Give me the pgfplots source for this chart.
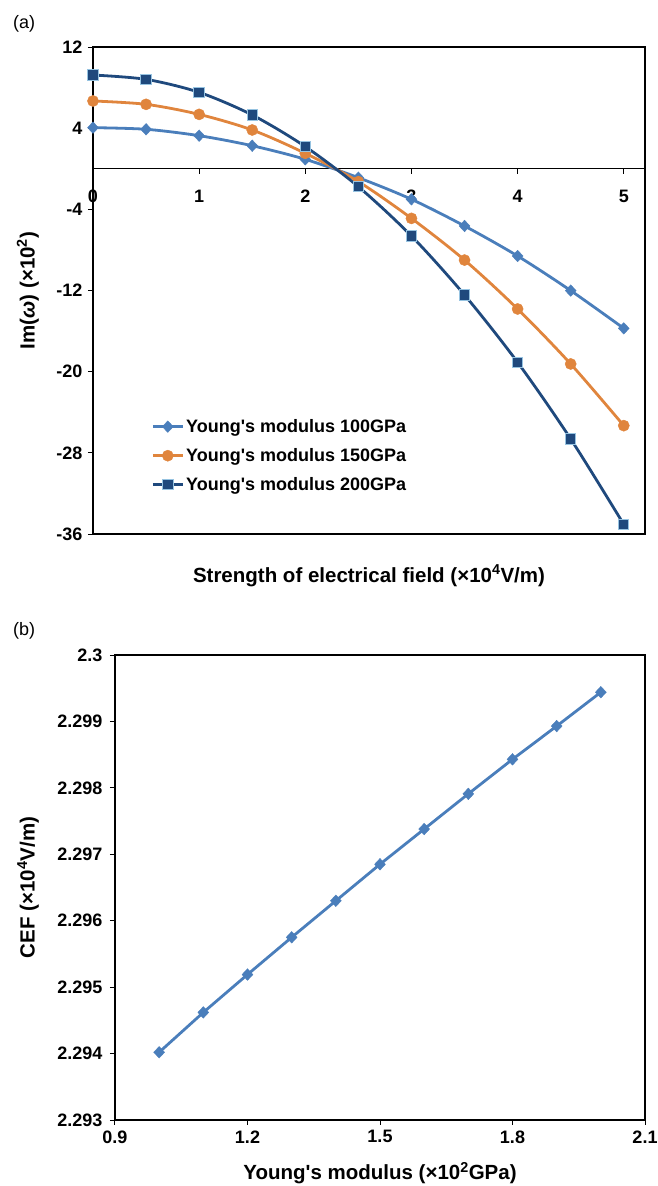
\documentclass[border=0pt]{standalone}
\usepackage{fontspec}
\setmainfont{Liberation Sans}
\usepackage{pgfplots}
\pgfplotsset{compat=1.18}

\definecolor{cA}{RGB}{74,126,187}
\definecolor{cB}{RGB}{224,133,61}
\definecolor{cC}{RGB}{31,73,125}
\definecolor{cCedge}{RGB}{150,195,225}

\pgfplotsset{
  panel/.style={scale only axis,
    /pgf/number format/assume math mode=true,
    tick label style={font=\fontsize{18}{21}\selectfont\bfseries},
    label style={font=\fontsize{20.5}{24}\selectfont\bfseries},
    axis line style={line width=1.2pt},
    tick style={black, line width=1pt},
    major tick length=5pt, tick align=outside},
}

\begin{document}
\begin{tikzpicture}
\path[use as bounding box] (0,0) rectangle (657pt,-1186pt);

\node[anchor=base west, inner sep=0, font=\fontsize{18}{21}\selectfont] at (13pt,-28pt) {(a)};
\node[anchor=base west, inner sep=0, font=\fontsize{18}{21}\selectfont] at (13pt,-635pt) {(b)};

% (a) growth rate against field strength
\begin{axis}[panel, at={(93pt,-534pt)}, anchor=south west,
  width=552pt, height=487pt,
  xmin=0, xmax=5.2, ymin=-36, ymax=12,
  axis x line*=middle, axis y line*=left, hide obscured x ticks=false,
  tick align=outside,
  xtick={0,1,2,3,4,5}, ytick={-36,-28,...,12},
  xticklabel style={yshift=-13pt}, yticklabel style={xshift=-2pt},
  xlabel={Strength of electrical field (×10\textsuperscript{4}V/m)},
  ylabel={Im(\textit{ω}) (×10\textsuperscript{2})},
  xlabel style={at={(axis description cs:0.5,-0.086)}, anchor=center},
  ylabel style={at={(axis description cs:-0.118,0.5)}, anchor=center},
  clip mode=individual,
  legend style={at={(axis description cs:0.1,0.244)}, anchor=north west,
    draw=none, fill=none, font=\fontsize{18}{21}\selectfont\bfseries,
    row sep=10.5pt},
  legend cell align=left,
  legend image code/.code={\draw[mark repeat=2,mark phase=2,#1]
    plot coordinates {(0pt,0pt)(15pt,0pt)(30pt,0pt)};},
]
\draw[black, line width=1.2pt] (rel axis cs:0,0) rectangle (rel axis cs:1,1);

\addplot[cA, line width=2.8pt, smooth, mark=diamond*, mark size=5.8pt,
  mark options={solid, fill=cA, draw=cA, line width=0.4pt, xscale=1.25}]
  coordinates {(0,4.05) (0.5,3.89) (1,3.26) (1.5,2.27) (2,0.93) (2.5,-0.88)
    (3,-3.01) (3.5,-5.64) (4,-8.60) (4.5,-12.01) (5,-15.73)};
\addlegendentry{Young\textquotesingle s modulus 100GPa}

\addplot[cB, line width=2.8pt, smooth, mark=*, mark size=5.6pt,
  mark options={solid, fill=cB, draw=cB, line width=0.4pt}]
  coordinates {(0,6.68) (0.5,6.35) (1,5.36) (1.5,3.82) (2,1.52) (2.5,-1.27)
    (3,-4.89) (3.5,-9.0) (4,-13.82) (4.5,-19.24) (5,-25.32)};
\addlegendentry{Young\textquotesingle s modulus 150GPa}

\addplot[cC, line width=2.8pt, smooth, mark=square*, mark size=5.2pt,
  mark options={solid, fill=cC, draw=cCedge, line width=1pt}]
  coordinates {(0,9.24) (0.5,8.81) (1,7.53) (1.5,5.30) (2,2.18) (2.5,-1.77)
    (3,-6.63) (3.5,-12.44) (4,-19.08) (4.5,-26.63) (5,-35.05)};
\addlegendentry{Young\textquotesingle s modulus 200GPa}
\end{axis}

% (b) critical electric field against Young's modulus
\begin{axis}[panel, at={(115pt,-1120pt)}, anchor=south west,
  width=530pt, height=465pt,
  xmin=0.9, xmax=2.1, ymin=2.293, ymax=2.3,
  tick pos=left, scaled ticks=false,
  xtick={0.9,1.2,1.5,1.8,2.1},
  ytick={2.293,2.294,2.295,2.296,2.297,2.298,2.299,2.3},
  yticklabel style={/pgf/number format/fixed, /pgf/number format/precision=3, xshift=-4pt},
  xticklabel style={/pgf/number format/fixed, /pgf/number format/precision=1, yshift=-2pt},
  xlabel={Young\textquotesingle s modulus (×10\textsuperscript{2}GPa)},
  ylabel={CEF (×10\textsuperscript{4}V/m)},
  xlabel style={at={(axis description cs:0.5,-0.114)}, anchor=center},
  ylabel style={at={(axis description cs:-0.164,0.5)}, anchor=center},
  clip mode=individual,
]
\addplot[cA, line width=2.8pt, mark=diamond*, mark size=5.8pt,
  mark options={solid, fill=cA, draw=cA, line width=0.4pt, xscale=1.25}]
  coordinates {(1.0,2.29402) (1.1,2.29462) (1.2,2.29519) (1.3,2.29575)
    (1.4,2.29630) (1.5,2.29685) (1.6,2.29738) (1.7,2.29791) (1.8,2.29843)
    (1.9,2.29893) (2.0,2.29944)};
\end{axis}
\end{tikzpicture}
\end{document}
